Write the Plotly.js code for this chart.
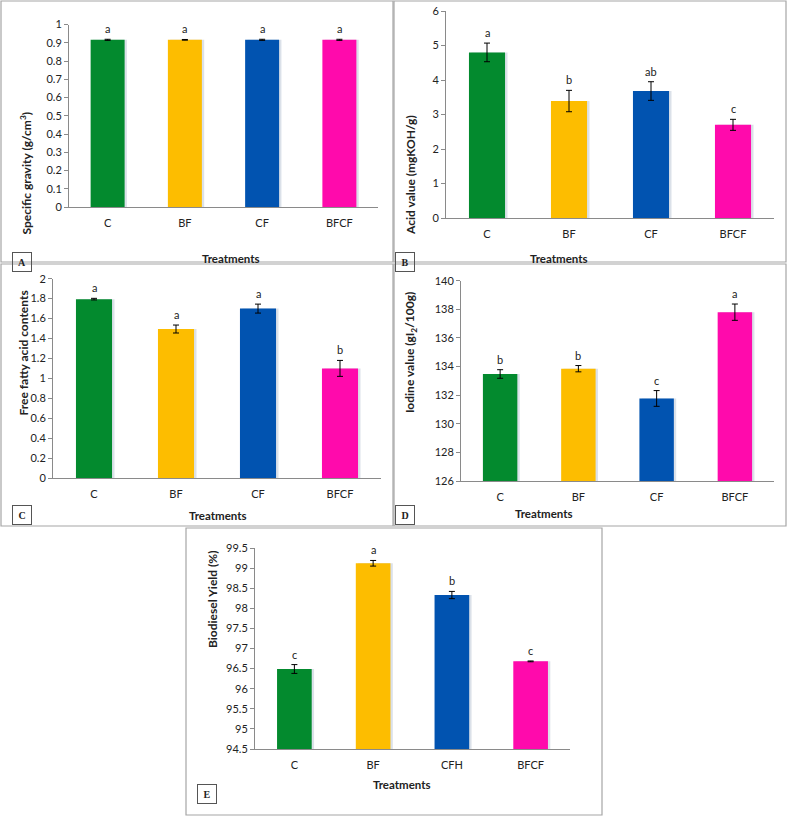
<!DOCTYPE html>
<html>
<head>
<meta charset="utf-8">
<script src="https://cdn.plot.ly/plotly-3.0.1.min.js"></script>
<style>html,body{margin:0;padding:0;background:#fff}#chart{width:787px;height:817px}</style>
</head>
<body>
<div id="chart"></div>
<script>
// ---- Data ----
const categories = ["C", "BF", "CF", "BFCF"];
const categoriesE = ["C", "BF", "CFH", "BFCF"];
const barColors = ["#038a2e", "#fdbd00", "#0153b0", "#ff0aac"];

const specificGravity = [0.916, 0.916, 0.916, 0.916];
const specificGravityErr = [0.003, 0.002, 0.003, 0.003];
const specificGravityLetters = ["a", "a", "a", "a"];

const acidValue = [4.80, 3.39, 3.68, 2.70];
const acidValueErr = [0.27, 0.31, 0.27, 0.16];
const acidValueLetters = ["a", "b", "ab", "c"];

const freeFattyAcid = [1.795, 1.495, 1.70, 1.10];
const freeFattyAcidErr = [0.008, 0.04, 0.045, 0.08];
const freeFattyAcidLetters = ["a", "a", "a", "b"];

const iodineValue = [133.48, 133.85, 131.77, 137.80];
const iodineValueErr = [0.30, 0.22, 0.55, 0.57];
const iodineValueLetters = ["b", "b", "c", "a"];

const biodieselYield = [96.49, 99.12, 98.33, 96.68];
const biodieselYieldErr = [0.11, 0.07, 0.09, 0.01];
const biodieselYieldLetters = ["c", "a", "b", "c"];

// ---- Layout helpers (pixel -> paper) ----
const W = 787, H = 817;
const PX = x => x / W;
const PY = y => 1 - y / H;

const panels = [
  {id: "", cats: categories, vals: specificGravity, errs: specificGravityErr, letters: specificGravityLetters,
   dom: [69, 378, 24.5, 207], range: [0, 1], dtick: 0.1, ytitle: "Specific gravity (g/cm<sup>3</sup>)",
   ytPos: [15, 110], xtPos: [200, 250], label: "A", labPos: [12, 252], frame: [1, 1, 393, 262]},
  {id: "2", cats: categories, vals: acidValue, errs: acidValueErr, letters: acidValueLetters,
   dom: [446, 774, 11, 218], range: [0, 6], dtick: 1, ytitle: "Acid value (mgKOH/g)",
   ytPos: [411, 113], xtPos: [590, 250], label: "B", labPos: [405, 252], frame: [394, 1, 786, 262]},
  {id: "3", cats: categories, vals: freeFattyAcid, errs: freeFattyAcidErr, letters: freeFattyAcidLetters,
   dom: [53, 381, 278.7, 478], range: [0, 2], dtick: 0.2, ytitle: "Free fatty acid contents",
   ytPos: [13, 353], xtPos: [187, 515], label: "C", labPos: [12, 515], frame: [1, 264, 393, 526]},
  {id: "4", cats: categories, vals: iodineValue, errs: iodineValueErr, letters: iodineValueLetters,
   dom: [461, 774, 280.7, 481], range: [126, 140], dtick: 2, ytitle: "Iodine value (gI<sub>2</sub>/100g)",
   ytPos: [410, 353], xtPos: [575, 513], label: "D", labPos: [405, 515], frame: [394, 264, 786, 526]},
  {id: "5", cats: categoriesE, vals: biodieselYield, errs: biodieselYieldErr, letters: biodieselYieldLetters,
   dom: [255, 570, 548, 749], range: [94.5, 99.5], dtick: 0.5, ytitle: "Biodiesel Yield (%)",
   ytPos: [203, 650], xtPos: [402, 793], label: "E", labPos: [197, 804], frame: [186, 528, 602, 815]}
];

const FONT = "Lato, 'Open Sans', sans-serif";
const traces = [];
const layout = {
  width: W, height: H,
  margin: {l: 0, r: 0, t: 0, b: 0},
  paper_bgcolor: "#ffffff", plot_bgcolor: "rgba(0,0,0,0)",
  showlegend: false, barmode: "overlay",
  font: {family: FONT, size: 10, color: "#222"},
  annotations: [], shapes: []
};

panels.forEach(p => {
  const xa = "x" + p.id, ya = "y" + p.id;
  // soft shadow behind bars (Excel style)
  traces.push({
    type: "bar", x: p.cats, y: p.vals, xaxis: xa, yaxis: ya,
    width: 0.44, offset: -0.19,
    marker: {color: "rgba(190,200,215,0.55)"},
    hoverinfo: "skip"
  });
  traces.push({
    type: "bar", x: p.cats, y: p.vals, xaxis: xa, yaxis: ya,
    width: 0.44, offset: -0.22,
    marker: {color: barColors},
    error_y: {type: "data", array: p.errs, visible: true, color: "#000", thickness: 1, width: 3}
  });
  const xKey = "xaxis" + p.id, yKey = "yaxis" + p.id;
  layout[xKey] = {
    domain: [PX(p.dom[0]), PX(p.dom[1])], anchor: ya,
    showline: true, linecolor: "#8a8a8a", linewidth: 1,
    ticks: "", showgrid: false, zeroline: false, fixedrange: true,
    tickfont: {family: FONT, size: 11, color: "#222"}, ticklabelstandoff: 6
  };
  layout[yKey] = {
    domain: [PY(p.dom[3]), PY(p.dom[2])], anchor: xa,
    range: p.range, dtick: p.dtick, tick0: p.range[0],
    showline: true, linecolor: "#8a8a8a", linewidth: 1,
    ticks: "outside", ticklen: 4, tickcolor: "#8a8a8a",
    showgrid: false, zeroline: false, fixedrange: true,
    tickfont: {family: FONT, size: 11, color: "#222"}
  };
  // significance letters
  p.cats.forEach((c, i) => {
    layout.annotations.push({
      xref: xa, yref: ya, x: c, y: p.vals[i] + p.errs[i],
      text: p.letters[i], showarrow: false, yanchor: "bottom", yshift: 2,
      font: {family: FONT, size: 11, color: "#222"}
    });
  });
  // axis titles
  layout.annotations.push({
    xref: "paper", yref: "paper", x: PX(p.ytPos[0]), y: PY(p.ytPos[1]),
    text: "<b>" + p.ytitle + "</b>", textangle: -90, showarrow: false,
    font: {family: FONT, size: 12, color: "#222"}
  });
  layout.annotations.push({
    xref: "paper", yref: "paper", x: PX(p.xtPos[0]), y: PY(p.xtPos[1]),
    text: "<b>Treatments</b>", showarrow: false,
    font: {family: FONT, size: 11.5, color: "#222"}
  });
  // panel letter box
  layout.annotations.push({
    xref: "paper", yref: "paper", x: PX(p.labPos[0]), y: PY(p.labPos[1]),
    text: "<b>" + p.label + "</b>", showarrow: false,
    width: 16, height: 16, bordercolor: "#555", borderwidth: 1, borderpad: 1,
    font: {family: "'Liberation Serif', 'DejaVu Serif', serif", size: 10, color: "#222"}
  });
  // panel frame
  layout.shapes.push({
    type: "rect", xref: "paper", yref: "paper",
    x0: PX(p.frame[0]), x1: PX(p.frame[2]), y0: PY(p.frame[3]), y1: PY(p.frame[1]),
    line: {color: "#a6a6a6", width: 1.2}, fillcolor: "rgba(0,0,0,0)", layer: "below"
  });
});

Plotly.newPlot("chart", traces, layout, {staticPlot: true, displayModeBar: false});
</script>
</body>
</html>
